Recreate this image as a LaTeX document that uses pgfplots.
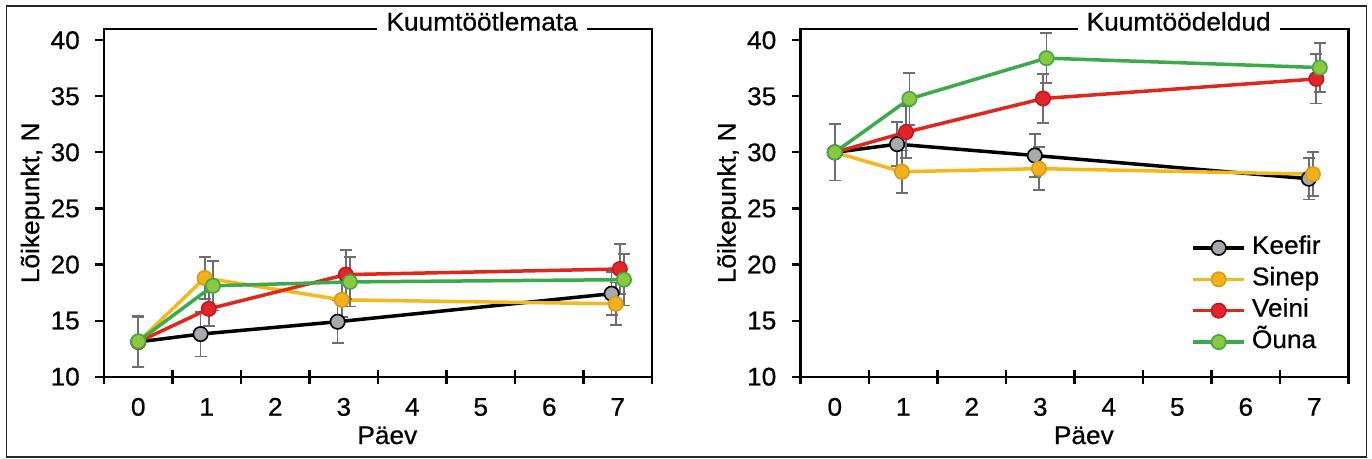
\documentclass[border=0pt]{standalone}
\usepackage{fontspec}
\setmainfont{Liberation Sans}[FakeStretch=1.03,FakeBold=0.6]
\usepackage{pgfplots}
\pgfplotsset{compat=1.18}
\definecolor{errgray}{HTML}{6D6E71}
\definecolor{kfill}{HTML}{A7A9AC}
\definecolor{sline}{HTML}{F5B81C}
\definecolor{sfill}{HTML}{F2B01E}
\definecolor{sedge}{HTML}{D99E0F}
\definecolor{vline}{HTML}{E1261C}
\definecolor{vfill}{HTML}{E0262B}
\definecolor{vedge}{HTML}{C4161C}
\definecolor{oline}{HTML}{3BAA4A}
\definecolor{ofill}{HTML}{8DC63F}
\definecolor{oedge}{HTML}{3BAA4A}
\newcommand\myfont{\fontsize{25.5bp}{30bp}\selectfont}

\pgfplotstableread{
x y e
0    13.10 2.2
0.91 13.80 2.0
2.91 14.90 1.9
6.91 17.40 1.9
}\LKeefir
\pgfplotstableread{
x y e
0    13.10 2.2
0.97 18.80 1.9
2.97 16.85 1.5
6.97 16.50 1.9
}\LSinep
\pgfplotstableread{
x y e
0    13.10 2.2
1.03 16.05 1.5
3.03 19.10 2.2
7.03 19.60 2.2
}\LVeini
\pgfplotstableread{
x y e
0    13.15 2.25
1.09 18.10 2.2
3.09 18.45 2.2
7.09 18.65 2.3
}\LOuna

\pgfplotstableread{
x y e
0    30.00 2.5
0.91 30.73 1.95
2.92 29.72 1.95
6.92 27.65 1.85
}\RKeefir
\pgfplotstableread{
x y e
0    30.00 2.5
0.98 28.27 1.9
2.98 28.55 1.9
6.98 28.06 1.95
}\RSinep
\pgfplotstableread{
x y e
0    30.00 2.5
1.04 31.80 2.3
3.04 34.80 2.2
7.03 36.55 2.2
}\RVeini
\pgfplotstableread{
x y e
0    30.00 2.5
1.09 34.77 2.3
3.09 38.40 2.25
7.08 37.56 2.2
}\ROuna

\pgfplotsset{
 myaxis/.style={
  scale only axis, width=548bp, height=347.7bp,
  xmin=-0.5, xmax=7.5, ymin=10, ymax=41,
  xtick={0,...,7}, minor xtick={-0.5,0.5,...,7.5},
  ytick={10,15,...,40},
  xtick pos=bottom, ytick pos=left,
  tick align=outside,
  major tick length=9bp, minor tick length=14bp,
  major x tick style={draw=none},
  minor x tick style={yshift=7bp, line width=2.2bp, black},
  major y tick style={line width=2.2bp, black},
  axis line style={line width=2.3bp},
  /pgf/number format/assume math mode=true,
  ticklabel style={font=\myfont},
  xticklabel style={anchor=base, inner sep=0pt, yshift=-30bp},
  yticklabel style={anchor=east, inner sep=0pt, xshift=-15bp},
  xlabel=Päev,
  xlabel style={at={(axis description cs:0.517,-0.1936)}, anchor=base, font=\myfont, inner sep=0pt},
  ylabel={Lõikepunkt, N},
  ylabel style={at={(axis description cs:-0.1184,0.5)}, anchor=base, font=\myfont, inner sep=0pt},
  title style={at={(axis description cs:0.69,1)}, anchor=base, yshift=-7.5bp, fill=white, inner xsep=9bp, inner ysep=0pt, font=\myfont},
  clip=false,
  error bars/y dir=both, error bars/y explicit,
  error bars/error bar style={color=errgray, line width=1.8bp},
  error bars/error mark options={rotate=90, mark size=6bp, line width=1.8bp, color=errgray},
  legend image code/.code={\draw[mark repeat=2,mark phase=2] plot coordinates {(0bp,0bp) (25.5bp,0bp) (51bp,0bp)};},
 },
 kf/.style={black, line width=3.5bp, mark=*, mark size=7.2bp, mark options={fill=kfill, draw=black, line width=1.6bp}},
 sp/.style={sline, line width=3.5bp, mark=*, mark size=7.2bp, mark options={fill=sfill, draw=sedge, line width=1.6bp}},
 vn/.style={vline, line width=3.5bp, mark=*, mark size=7.2bp, mark options={fill=vfill, draw=vedge, line width=1.6bp}},
 on/.style={oline, line width=3.5bp, mark=*, mark size=7.2bp, mark options={fill=ofill, draw=oedge, line width=1.6bp}},
}

\begin{document}
\begin{tikzpicture}[x=1bp,y=1bp]
\useasboundingbox (0,0) rectangle (1372,459);
\draw[line width=1.3bp, black!85] (6.5,2) rectangle (1366.5,453);

\begin{axis}[myaxis, at={(104bp,82.3bp)}, anchor=south west, title={Kuumtöötlemata}]
\addplot[kf] table[x=x, y=y, y error=e] {\LKeefir};
\addplot[sp] table[x=x, y=y, y error=e] {\LSinep};
\addplot[vn] table[x=x, y=y, y error=e] {\LVeini};
\addplot[on] table[x=x, y=y, y error=e] {\LOuna};
\end{axis}

\begin{axis}[myaxis, at={(800.5bp,82.3bp)}, anchor=south west, title={Kuumtöödeldud},
  legend style={at={(axis description cs:0.713,0.235)}, anchor=west, draw=none, fill=none, inner sep=0pt, font=\myfont,
    nodes={inner sep=0pt, text height=17bp, text depth=5bp}, row sep=9.4bp,
    /tikz/every odd column/.append style={column sep=6bp}},
  legend cell align=left]
\addplot[kf] table[x=x, y=y, y error=e] {\RKeefir};
\addlegendentry{Keefir}
\addplot[sp] table[x=x, y=y, y error=e] {\RSinep};
\addlegendentry{Sinep}
\addplot[vn] table[x=x, y=y, y error=e] {\RVeini};
\addlegendentry{Veini}
\addplot[on] table[x=x, y=y, y error=e] {\ROuna};
\addlegendentry{Õuna}
\end{axis}
\end{tikzpicture}
\end{document}
